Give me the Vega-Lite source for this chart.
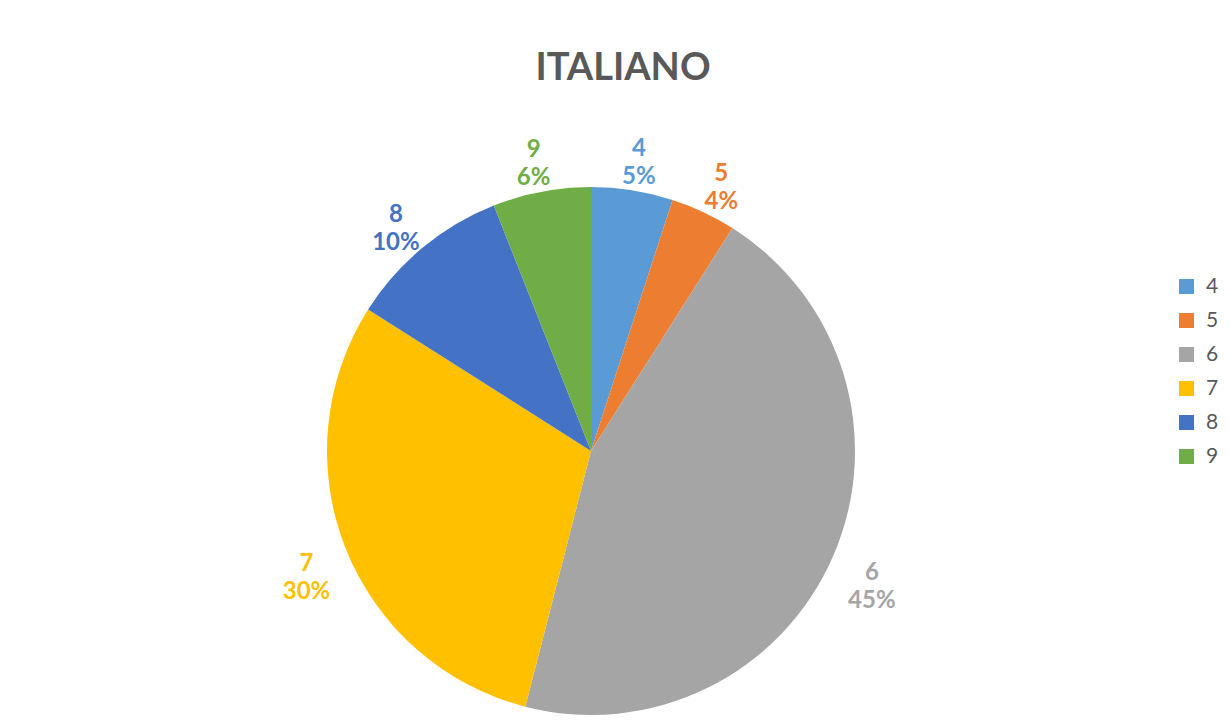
{
  "$schema": "https://vega.github.io/schema/vega-lite/v6.json",
  "width": 1182,
  "height": 702,
  "autosize": {"type": "none"},
  "padding": {"left": 0, "top": 100, "right": 48, "bottom": 0},
  "background": "white",
  "view": {"stroke": null},
  "title": {
    "text": "ITALIANO",
    "font": "Lato",
    "fontSize": 38,
    "fontWeight": "bold",
    "color": "#595959",
    "anchor": "middle",
    "dx": 32,
    "offset": 12
  },
  "data": {
    "values": [
      {"grade": "4", "value": 5, "label": "4\n5%"},
      {"grade": "5", "value": 4, "label": "5\n4%"},
      {"grade": "6", "value": 45, "label": "6\n45%"},
      {"grade": "7", "value": 30, "label": "7\n30%"},
      {"grade": "8", "value": 10, "label": "8\n10%"},
      {"grade": "9", "value": 6, "label": "9\n6%"}
    ]
  },
  "encoding": {
    "theta": {"field": "value", "type": "quantitative", "stack": true},
    "order": {"field": "grade", "type": "ordinal"},
    "color": {
      "field": "grade",
      "type": "nominal",
      "scale": {
        "domain": ["4", "5", "6", "7", "8", "9"],
        "range": ["#5B9BD5", "#ED7D31", "#A5A5A5", "#FFC000", "#4472C4", "#70AD47"]
      },
      "legend": {
        "title": null,
        "orient": "none",
        "legendX": 1176,
        "legendY": 176,
        "symbolType": "square",
        "symbolSize": 225,
        "symbolStrokeWidth": 0,
        "labelFont": "Lato",
        "labelFontSize": 21,
        "labelColor": "#595959",
        "labelOffset": 9,
        "rowPadding": 12
      }
    }
  },
  "layer": [
    {"mark": {"type": "arc", "outerRadius": 264}},
    {
      "mark": {
        "type": "text",
        "radius": 306,
        "font": "Lato",
        "fontSize": 24,
        "fontWeight": "bold",
        "lineHeight": 28,
        "lineBreak": "\n",
        "align": "center",
        "baseline": "middle"
      },
      "encoding": {"text": {"field": "label", "type": "nominal"}}
    }
  ]
}
